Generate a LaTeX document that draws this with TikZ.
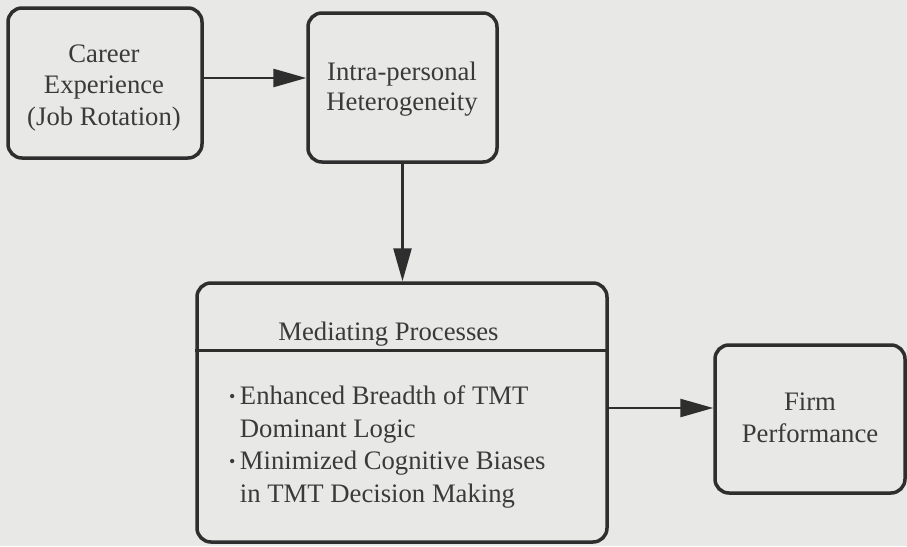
\documentclass[tikz,border=0pt]{standalone}
\usepackage{fontspec}
\setmainfont{Liberation Serif}
\usetikzlibrary{arrows.meta,calc}
\definecolor{bg}{HTML}{E8E8E6}
\definecolor{ink}{HTML}{2E2E2E}
\definecolor{txt}{HTML}{3A3A3A}
\tikzset{
  box/.style={draw=ink, line width=3.5pt, rounded corners=14pt, fill=bg,
    inner sep=0pt},
  lbl/.style={text=txt, inner sep=0pt, align=center,
    font=\fontsize{26.7}{31.5}\selectfont},
  arr/.style={draw=ink, line width=2.5pt, -{Triangle[length=33pt,width=18pt]}}
}
\newcommand{\bul}{{\fontsize{18}{18}\selectfont\raisebox{2pt}{•}}\,}
\newcommand{\bulsp}{\hphantom{{\fontsize{18}{18}\selectfont •}\,}}
\begin{document}
\begin{tikzpicture}[x=1pt,y=-1pt]
\fill[bg] (0,0) rectangle (907,546);
\useasboundingbox (0,0) rectangle (907,546);

% boxes
\node[box, minimum width=194pt, minimum height=150pt] (A) at (105,83) {};
\node[box, minimum width=189pt, minimum height=149pt] (B) at (402.5,87.5) {};
\node[box, minimum width=410pt, minimum height=259pt] (C) at (402,412.5) {};
\node[box, minimum width=190pt, minimum height=148pt] (D) at (810,419) {};

% texts
\node[lbl, anchor=base] (At) at (104,125) {Career\\Experience\\(Job Rotation)};
\node[lbl, anchor=base, font=\fontsize{26.7}{30}\selectfont] (Bt) at (402,110)
  {Intra-personal\\Heterogeneity};
\node[lbl, anchor=base, font=\fontsize{26.7}{32}\selectfont] (Dt) at (810,442)
  {Firm\\Performance};

\draw[draw=ink, line width=3pt] ($(C.north west)!0.2625!(C.south west)$) coordinate (dl)
  -- ($(C.north east)!0.2625!(C.south east)$) coordinate (dr);

\node[lbl, anchor=base] (mp) at (388.5,340) {Mediating Processes};
\node[lbl, anchor=base west, align=left, font=\fontsize{26.7}{32.4}\selectfont] (l1) at (229,502)
  {\bul Enhanced Breadth of TMT\\
   \bulsp Dominant Logic\\
   \bul Minimized Cognitive Biases\\
   \bulsp in TMT Decision Making};

% connectors
\draw[arr] (A.east |- 0,78) -- (B.west |- 0,78);
\draw[arr] (B.south) -- (C.north -| B.south);
\draw[arr] (C.east |- 0,408) -- (D.west |- 0,408);
\end{tikzpicture}
\end{document}
